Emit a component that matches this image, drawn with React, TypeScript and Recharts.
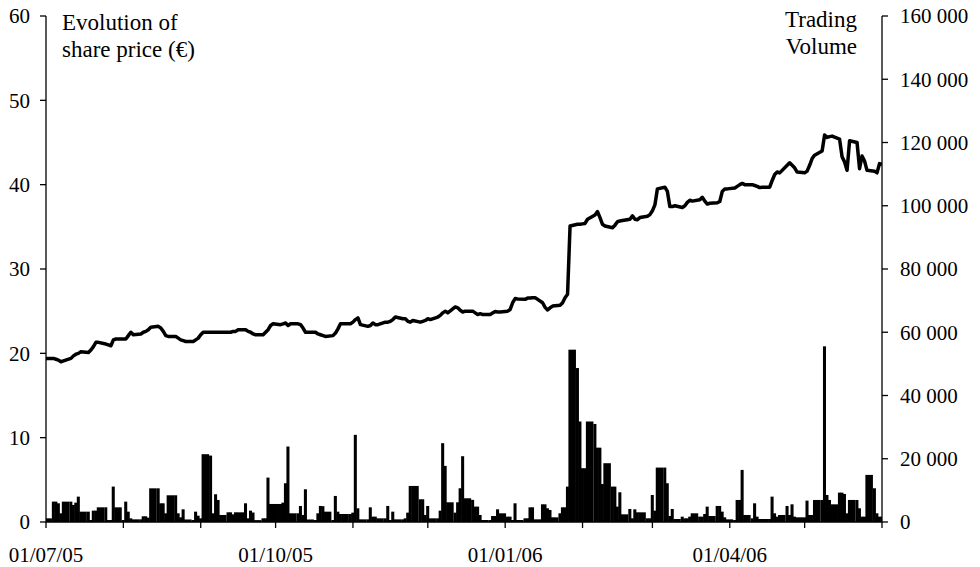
import React from 'react';
import { ComposedChart, Bar, Line, XAxis, YAxis } from 'recharts';

const FONT = '"Liberation Serif", "Times New Roman", Times, serif';
const START_UTC = Date.UTC(2005, 6, 1); // 01/07/05

// Daily closing share price (EUR), one row per week (Fri, Mon, Tue, Wed, Thu)
const price = [
  19.4, 19.4, 19.3, 19.2, 19.0,
  19.1, 19.4, 19.7, 19.9, 20.0,
  20.2, 20.1, 20.4, 20.8, 21.3,
  21.3, 21.1, 21.0, 20.9, 21.6,
  21.7, 21.7, 21.7, 22.1, 22.5,
  22.2, 22.3, 22.5, 22.6, 22.8,
  23.1, 23.2, 23.0, 22.6, 22.1,
  22.0, 22.0, 21.8, 21.6, 21.5,
  21.4, 21.4, 21.6, 21.8, 22.2,
  22.5, 22.5, 22.5, 22.5, 22.5,
  22.5, 22.5, 22.5, 22.6, 22.6,
  22.8, 22.8, 22.6, 22.5, 22.3,
  22.2, 22.2, 22.5, 22.8, 23.3,
  23.5, 23.4, 23.5, 23.6, 23.3,
  23.5, 23.5, 23.4, 23.0, 22.5,
  22.5, 22.5, 22.3, 22.2, 22.1,
  22.0, 22.1, 22.4, 22.9, 23.5,
  23.5, 23.5, 23.7, 24.0, 24.2,
  23.4, 23.2, 23.3, 23.6, 23.4,
  23.4, 23.7, 23.7, 23.8, 24.0,
  24.3, 24.1, 24.1, 23.8, 23.7,
  23.9, 23.7, 23.8, 23.9, 24.1,
  24.0, 24.3, 24.5, 24.8, 25.0,
  24.8, 25.5, 25.4, 25.1, 24.9,
  25.0, 25.0, 24.8, 24.6, 24.7,
  24.6, 24.6, 24.8, 24.95, 24.9,
  24.9, 25.0, 25.2, 26.0, 26.5,
  26.45, 26.4, 26.55, 26.55, 26.6,
  26.6, 26.0, 25.45, 25.15, 25.4,
  25.6, 25.7, 26.0, 26.6, 27.0,
  35.1, 35.3, 35.3, 35.35, 35.4,
  35.9, 36.4, 36.8, 36.1, 35.3,
  35.1, 34.9, 35.2, 35.6, 35.7,
  35.75, 35.9, 36.3, 35.9, 35.85,
  36.1, 36.26, 36.45, 36.9, 37.6,
  39.5, 39.7, 39.2, 37.4, 37.4,
  37.5, 37.3, 37.5, 37.9, 38.15,
  38.05, 38.2, 38.5, 38.05, 37.7,
  37.8, 37.85, 38.0, 39.2, 39.5,
  39.5, 39.6, 39.8, 40.0, 40.15,
  40.0, 40.0, 39.9, 39.8, 39.65,
  39.7, 39.7, 40.5, 41.2, 41.5,
  41.4, 42.3, 42.6, 42.3, 42.0,
  41.5, 41.4, 41.6, 42.3, 43.1,
  43.5, 44.0, 45.9, 45.6, 45.7,
  45.76, 45.4, 43.3, 42.7, 41.7,
  45.2, 45.0, 41.9, 43.4, 42.8,
  41.7, 41.6, 41.4, 42.5, 42.4,
];

// Daily trading volume, same layout
const volume = [
  1160, 6440, 6440, 5910, 2750,
  6440, 6440, 5390, 6120, 8020,
  3270, 3270, 630, 3590, 3590,
  4640, 4640, 630, 630, 11200,
  4640, 630, 6440, 3270, 1160,
  840, 840, 1800, 1800, 1370,
  10650, 10650, 5910, 5910, 2750,
  8450, 8450, 2750, 1480, 4010,
  800, 630, 3270, 2000, 1160,
  21440, 21000, 2750, 8770, 6970,
  2220, 3060, 3060, 2430, 3060,
  3060, 5910, 1160, 3590, 3000,
  600, 1160, 1160, 14040, 5700,
  5700, 5700, 6120, 12250, 23870,
  2750, 2750, 5070, 2220, 10350,
  800, 630, 2750, 5070, 5000,
  3270, 630, 8240, 3270, 2530,
  2530, 2530, 2960, 27560, 4330,
  840, 840, 4640, 1690, 1690,
  1160, 1160, 5070, 630, 3270,
  840, 840, 1160, 2960, 11400,
  11400, 7180, 7180, 2220, 5070,
  1160, 1160, 3590, 24920, 17740,
  6230, 2960, 6230, 10670, 20800,
  7500, 7000, 4860, 4860, 2220,
  630, 630, 1900, 1900, 4010,
  2750, 1690, 1690, 630, 5910,
  630, 1160, 1160, 4640, 4640,
  840, 5590, 5590, 4330, 3800,
  1480, 2750, 4640, 4640, 11190,
  54490, 48680, 31780, 17000, 17000,
  31780, 31000, 23500, 23500, 12000,
  18590, 11190, 11190, 4860, 9400,
  2430, 4120, 1160, 4010, 3060,
  3060, 1160, 1160, 8550, 3590,
  17210, 17210, 12250, 1900, 4120,
  950, 1690, 1160, 1160, 1690,
  2750, 1690, 1690, 2530, 4860,
  1900, 5070, 5070, 3270, 1480,
  840, 630, 6970, 6970, 16470,
  2220, 1160, 5910, 1690, 950,
  950, 950, 8020, 2750, 1690,
  2220, 5070, 2220, 5590, 1690,
  1480, 1480, 6760, 2220, 2220,
  6970, 6970, 55550, 8550, 6970,
  5590, 9290, 9290, 8870, 2750,
  6970, 6970, 4330, 1690, 1690,
  14890, 10670, 2750, 1690, 1690,
];

// Month starts (days since 01/07/05) and their labels
const MONTH_TICKS = [0, 31, 62, 92, 123, 153, 184, 215, 243, 274, 304, 335];
const MONTH_LABELS = ['01/07/05', '', '', '01/10/05', '', '', '01/01/06', '', '', '01/04/06', '', ''];
const PRICE_TICKS = [0, 10, 20, 30, 40, 50, 60];
const VOLUME_TICKS = [0, 20000, 40000, 60000, 80000, 100000, 120000, 140000, 160000];

// Calendar positions of the trading days (weekdays from 01/07/05)
function tradingDays(n: number): number[] {
  const out: number[] = [];
  let d = 0;
  while (out.length < n) {
    const wd = new Date(START_UTC + d * 86400000).getUTCDay();
    if (wd !== 0 && wd !== 6) out.push(d);
    d++;
  }
  return out;
}

const days = tradingDays(price.length);
const rows = price.map((p, i) => ({
  day: days[i],
  price: p,
  volume: volume[i],
  span: i < days.length - 1 ? days[i + 1] - days[i] : 1,
}));

const fmtVolume = (v: number) => String(v).replace(/\B(?=(\d{3})+(?!\d))/g, ' ');
const fmtMonth = (v: number) => {
  const i = MONTH_TICKS.indexOf(v);
  return i >= 0 ? MONTH_LABELS[i] : '';
};

const VolumeBar = (props: any) => {
  const { x, y, width, height, payload } = props;
  if (!height || height <= 0) return null;
  return (
    <rect
      x={x - 0.4}
      y={y}
      width={width * (payload?.span ?? 1) + 0.8}
      height={height}
      fill="#000"
    />
  );
};

const tickStyle = { fill: '#000', fontSize: 21, fontFamily: FONT };

export default function App() {
  return (
    <div style={{ position: 'absolute', left: 0, top: 0, width: 980, height: 567, background: '#fff' }}>
      <ComposedChart width={980} height={567} data={rows} margin={{ top: 16, right: 0, bottom: 0, left: 0 }}>
        <XAxis
          dataKey="day"
          type="number"
          domain={[0, 335]}
          ticks={MONTH_TICKS}
          interval={0}
          tickFormatter={fmtMonth}
          height={45}
          tickSize={6}
          tickMargin={19}
          tick={tickStyle}
          axisLine={{ stroke: '#000', strokeWidth: 1.3 }}
          tickLine={{ stroke: '#000', strokeWidth: 1.3 }}
          allowDataOverflow
        />
        <YAxis
          yAxisId="left"
          orientation="left"
          domain={[0, 60]}
          ticks={PRICE_TICKS}
          interval={0}
          width={46}
          tickSize={6}
          tickMargin={10}
          tick={tickStyle}
          axisLine={{ stroke: '#000', strokeWidth: 1.3 }}
          tickLine={{ stroke: '#000', strokeWidth: 1.3 }}
        />
        <YAxis
          yAxisId="right"
          orientation="right"
          domain={[0, 160000]}
          ticks={VOLUME_TICKS}
          interval={0}
          width={98}
          tickSize={6}
          tickMargin={12}
          tickFormatter={fmtVolume}
          tick={{ ...tickStyle, textAnchor: 'start' }}
          axisLine={{ stroke: '#000', strokeWidth: 1.3 }}
          tickLine={{ stroke: '#000', strokeWidth: 1.3 }}
        />
        <Bar
          yAxisId="right"
          dataKey="volume"
          barSize={836 / 335}
          fill="#000"
          shape={VolumeBar}
          isAnimationActive={false}
        />
        <Line
          yAxisId="left"
          type="linear"
          dataKey="price"
          stroke="#000"
          strokeWidth={3.5}
          strokeLinejoin="round"
          dot={false}
          activeDot={false}
          isAnimationActive={false}
        />
      </ComposedChart>
      <svg width={980} height={567} style={{ position: 'absolute', left: 0, top: 0, pointerEvents: 'none' }}>
        <text x={62} y={30} fontFamily={FONT} fontSize={23} fill="#000">Evolution of</text>
        <text x={62} y={57} fontFamily={FONT} fontSize={23} fill="#000">share price (€)</text>
        <text x={857} y={27} fontFamily={FONT} fontSize={23} fill="#000" textAnchor="end">Trading</text>
        <text x={857} y={54} fontFamily={FONT} fontSize={23} fill="#000" textAnchor="end">Volume</text>
      </svg>
    </div>
  );
}
